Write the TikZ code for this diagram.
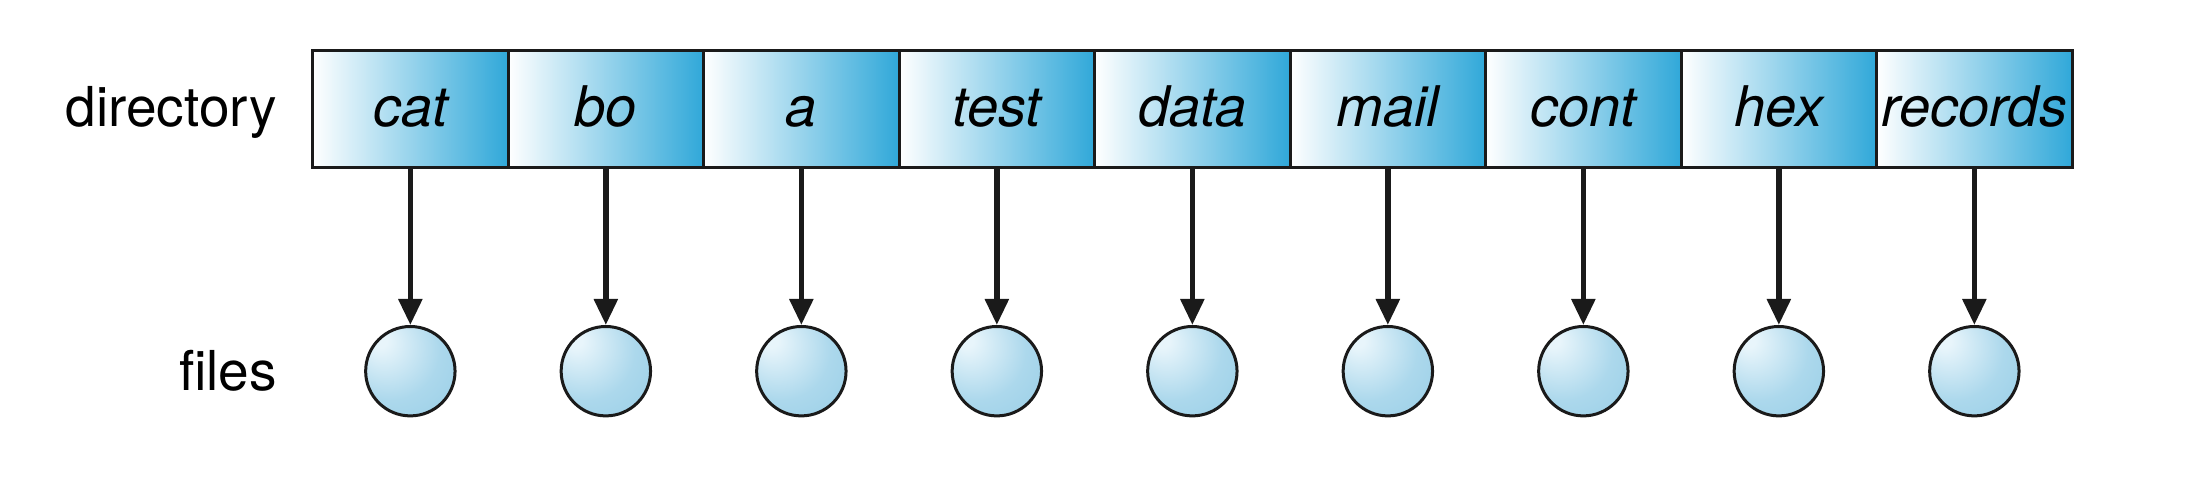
\documentclass[tikz,border=0pt]{standalone}
\usepackage{fontspec}
\setmainfont{TeX Gyre Heros}
\usetikzlibrary{arrows.meta}
\definecolor{boxright}{RGB}{48,168,217}
\definecolor{boxmid}{RGB}{145,203,229}
\definecolor{ballhl}{RGB}{232,245,251}
\definecolor{ballmid}{RGB}{172,216,236}
\definecolor{balledge}{RGB}{138,199,227}
\definecolor{ink}{RGB}{26,26,26}
\pgfdeclareradialshading{ballsh}{\pgfpoint{-18bp}{18bp}}{color(0bp)=(ballhl); color(4bp)=(ballhl); color(28bp)=(ballmid); color(62bp)=(balledge); color(80bp)=(balledge)}
\tikzset{
  dirbox/.style={draw=ink, line width=3pt, rectangle, minimum width=195.5pt, minimum height=117.3pt,
    inner sep=0pt, left color=white, middle color=boxmid, right color=boxright,
    font=\fontsize{56}{66}\selectfont\itshape, text height=40pt, text depth=3.8pt},
  filenode/.style={draw=ink, line width=3pt, circle, minimum size=89.4pt, inner sep=0pt, shading=ballsh},
  lbl/.style={font=\fontsize{55}{66}\selectfont, anchor=base east, inner sep=0pt},
  arr/.style={draw=ink, line width=5.5pt, -{Triangle[length=26pt,width=23pt]}}
}
\begin{document}
\begin{tikzpicture}[x=1pt,y=1pt]
\useasboundingbox (0,0) rectangle (2188,478);
\node[lbl] (dirlbl) at (277,351) {directory};
\node[lbl] (fileslbl) at (277,87) {files};
\foreach \name [count=\i] in {cat,bo,a,test,data,mail,cont,hex,records}{
  \pgfmathsetmacro{\cx}{312.6+195.5*(\i-0.5)}
  \node[dirbox] (b\i) at (\cx,369.1) {\name};
  \node[filenode] (f\i) at (\cx,106.8) {};
  \draw[arr] (b\i.south) -- (f\i.north);
}
\end{tikzpicture}
\end{document}
